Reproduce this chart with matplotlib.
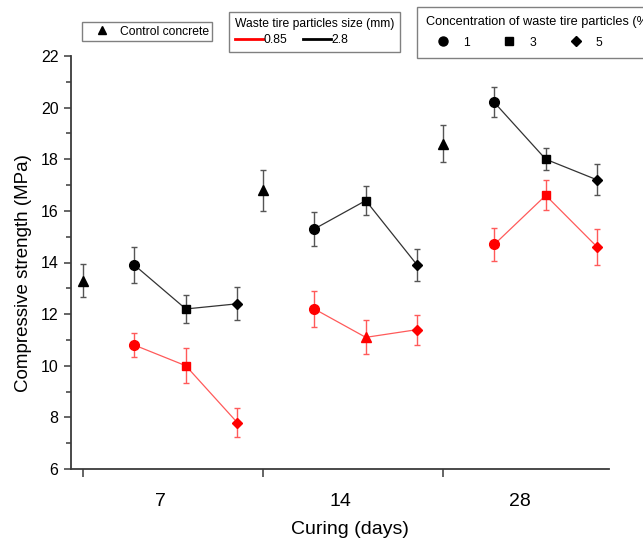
import matplotlib
matplotlib.use("Agg")
import matplotlib.pyplot as plt
from matplotlib.lines import Line2D
import numpy as np

## data
days = ["7", "14", "28"]
control = [13.3, 16.8, 18.6]
control_err = [0.63, 0.80, 0.72]

concentrations = ["1", "3", "5"]
conc_markers = ["o", "s", "D"]

fine = [[10.8, 10.0, 7.8], [12.2, 11.1, 11.4], [14.7, 16.6, 14.6]]        # 0.85 mm
fine_err = [[0.48, 0.68, 0.56], [0.70, 0.66, 0.58], [0.64, 0.58, 0.70]]
fine_markers = [["o", "s", "D"], ["o", "^", "D"], ["o", "s", "D"]]

coarse = [[13.9, 12.2, 12.4], [15.3, 16.4, 13.9], [20.2, 18.0, 17.2]]     # 2.8 mm
coarse_err = [[0.70, 0.56, 0.64], [0.66, 0.56, 0.62], [0.58, 0.43, 0.60]]

sizes = ["0.85", "2.8"]

plt.rcParams["font.family"] = ["Liberation Sans", "DejaVu Sans"]

RED, RED_LIGHT = "#ff0000", "#ff5a5a"
BLACK, GREY = "#000000", "#555555"
ms = {"o": 7, "s": 6, "D": 5.2, "^": 7}
group_step = 3.5
leg_fs = 8.7

fig = plt.figure(figsize=(6.43, 5.45), dpi=100)
ax = fig.add_axes([71/643, 1 - 469/545, 538/643, 413/545])

for g in range(len(days)):
    x0 = g * group_step
    ax.errorbar(x0, control[g], yerr=control_err[g], marker="^", ms=ms["^"],
                color=BLACK, ecolor=GREY, elinewidth=1, capsize=2.5, capthick=1, ls="none")
    xs = x0 + np.arange(1, 4)
    ax.plot(xs, fine[g], color=RED_LIGHT, lw=0.9, zorder=1)
    ax.plot(xs, coarse[g], color="#333333", lw=0.9, zorder=1)
    for i in range(3):
        m = fine_markers[g][i]
        ax.errorbar(xs[i], fine[g][i], yerr=fine_err[g][i], marker=m, ms=ms[m],
                    color=RED, ecolor=RED_LIGHT, elinewidth=1, capsize=2.5, capthick=1, ls="none")
        m = conc_markers[i]
        ax.errorbar(xs[i], coarse[g][i], yerr=coarse_err[g][i], marker=m, ms=ms[m],
                    color=BLACK, ecolor=GREY, elinewidth=1, capsize=2.5, capthick=1, ls="none")

ax.set_xlim(-0.233, 10.23)
ax.set_ylim(6, 22)
for s in ["top", "right"]:
    ax.spines[s].set_visible(False)
for s in ["left", "bottom"]:
    ax.spines[s].set_color("#3a3a3a")
    ax.spines[s].set_linewidth(1.3)

ax.set_yticks(np.arange(6, 23, 2))
ax.set_yticks(np.arange(7, 22, 2), minor=True)
ax.tick_params(axis="y", which="major", direction="out", length=5, width=1.1,
               color="#3a3a3a", labelsize=11.5, pad=4)
ax.tick_params(axis="y", which="minor", direction="out", length=3.5, width=1.1, color="#3a3a3a")

ax.set_xticks([g * group_step for g in range(len(days))])
ax.set_xticklabels([])
ax.set_xticks([g * group_step + 1.5 for g in range(len(days))], minor=True)
ax.set_xticklabels(days, minor=True)
ax.tick_params(axis="x", which="major", direction="out", length=6, width=1.1, color="#3a3a3a")
ax.tick_params(axis="x", which="minor", length=0, labelsize=14, pad=17)

ax.set_ylabel("Compressive strength (MPa)", fontsize=13.5)
ax.yaxis.set_label_coords(-0.073, 0.475)
ax.set_xlabel("Curing (days)", fontsize=14)
ax.xaxis.set_label_coords(0.519, -0.127)

## legends
frame = dict(frameon=True, fancybox=False, framealpha=1, edgecolor="#808080",
             borderaxespad=0, prop={"size": leg_fs})

h1 = [Line2D([], [], ls="none", marker="^", color=BLACK, ms=6)]
leg1 = fig.legend(h1, ["Control concrete"], loc="upper left",
                  bbox_to_anchor=(82/643, 1 - 22/545), borderpad=0.29,
                  handlelength=2.7, handletextpad=0.12, **frame)

h2 = [Line2D([], [], color=RED, lw=2), Line2D([], [], color=BLACK, lw=2)]
leg2 = fig.legend(h2, sizes, loc="upper left", ncol=2,
                  bbox_to_anchor=(229/643, 1 - 12/545), borderpad=0.5,
                  handlelength=2.3, handletextpad=0.05, columnspacing=1.3,
                  labelspacing=0.35, title="Waste tire particles size (mm)",
                  title_fontproperties={"size": leg_fs}, alignment="left", **frame)

h3 = [Line2D([], [], ls="none", marker=m, color=BLACK, ms=ms[m] - 0.5) for m in conc_markers]
leg3 = fig.legend(h3, concentrations, loc="upper left", ncol=3,
                  bbox_to_anchor=(417/643, 1 - 7/545), borderpad=0.75,
                  handlelength=2.78, handletextpad=0.27, columnspacing=1.88,
                  labelspacing=0.7, title="Concentration of waste tire particles (%)",
                  title_fontproperties={"size": 9.2}, alignment="left", **frame)
for leg in (leg1, leg2, leg3):
    leg.get_frame().set_linewidth(1.0)

fig.savefig("out.png", dpi=100)
